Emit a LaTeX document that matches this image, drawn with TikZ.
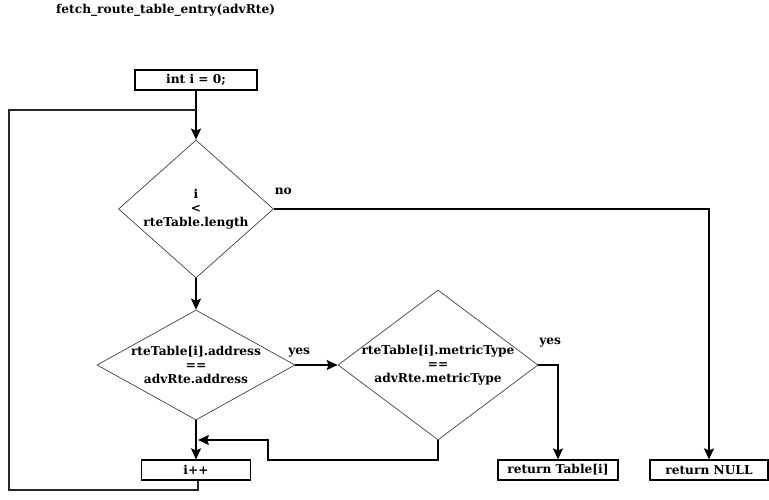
\documentclass[tikz,border=0pt]{standalone}
\usepackage{fontspec}
\setmainfont{DejaVu Serif}
\usetikzlibrary{shapes.geometric}
\usetikzlibrary{arrows.meta}
\tikzset{
  every node/.style={font=\bfseries\fontsize{12.2}{13.8}\selectfont},
  stepbox/.style={draw,line width=1.2pt,minimum height=20pt,inner sep=0pt},
  decision/.style={draw=black!75,line width=0.7pt,diamond,inner sep=0pt},
  test/.style={align=center,inner sep=0pt},
  flow/.style={line width=1.8pt,-{Stealth[length=11pt,width=10pt,inset=2pt]}},
  loopback/.style={line width=1.6pt,black!85}
}
\begin{document}
\begin{tikzpicture}[x=1pt,y=-1pt]
  \useasboundingbox (0,0) rectangle (769,500);
  \node[anchor=west,inner sep=0pt] (title) at (56,10) {fetch\_route\_table\_entry(advRte)};
  \node[stepbox,minimum width=122pt] (init) at (196,80) {int i = 0;};
  \node[decision,minimum width=155pt,minimum height=138pt] (len) at (196,209) {};
  \node[test] (lentext) at (len) {i\\<\\rteTable.length};
  \node[decision,minimum width=198pt,minimum height=110pt] (addr) at (196,365) {};
  \node[test] (addrtext) at (addr) {rteTable[i].address\\==\\advRte.address};
  \node[decision,minimum width=200pt,minimum height=150pt] (metric) at (438,365) {};
  \node[test] (metrictext) at (metric) {rteTable[i].metricType\\==\\advRte.metricType};
  \node[stepbox,minimum width=109pt] (inc) at (196,470) {i++};
  \node[stepbox,minimum width=120pt] (found) at (558,470) {return Table[i]};
  \node[stepbox,minimum width=118pt] (none) at (709,470) {return NULL};
  \coordinate (join) at (196,110);
  \coordinate (back) at (9,490);
  \coordinate (detour) at (268,460);
  \coordinate (rejoin) at (198,440);
  % main line
  \draw[flow] (init) -- (len);
  \draw[flow] (len) -- (addr);
  \draw[flow] (addr) -- (inc);
  \draw[flow] (len.east) -- node[pos=0,anchor=south west,inner sep=0pt,yshift=13pt] (no) {no}
    ++(0,0) -| (none.north);
  \draw[flow] (addr.east) -- node[pos=0,anchor=south west,inner sep=0pt,xshift=-8pt,yshift=7pt] (yes1) {yes}
    (metric.west);
  \draw[flow] (metric.east) -- node[pos=0,anchor=south west,inner sep=0pt,yshift=17pt] (yes2) {yes}
    ++(0,0) -| (found.north);
  \draw[flow] (metric.south) |- (detour) |- (rejoin);
  % back to the test
  \draw[loopback] ([xshift=2pt]inc.south) |- (back) |- (join);
\end{tikzpicture}
\end{document}
